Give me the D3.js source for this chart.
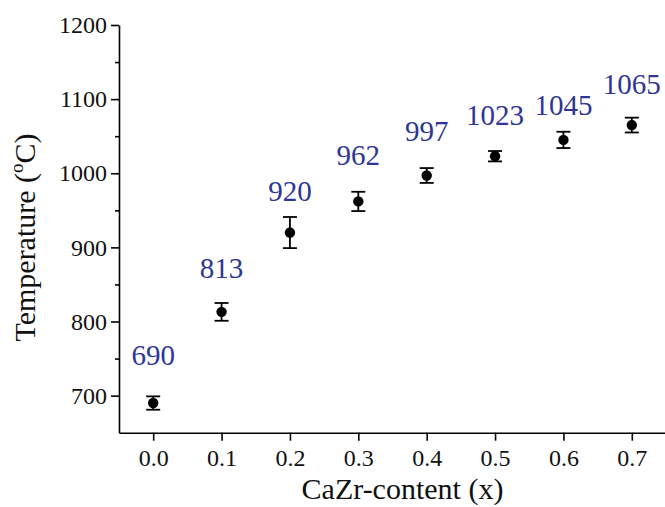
<!DOCTYPE html>
<html>
<head>
<meta charset="utf-8">
<script src="https://cdn.jsdelivr.net/npm/d3@7"></script>
<style>
  html, body { margin: 0; padding: 0; background: #fff; }
  svg { display: block; }
</style>
</head>
<body>
<div id="chart"></div>
<script>
// ---- data ----
const xValues = [0.0, 0.1, 0.2, 0.3, 0.4, 0.5, 0.6, 0.7];
const temperatures = [690, 813, 920, 962, 997, 1023, 1045, 1065];
const errors = [9, 12, 21, 13, 10, 7, 11, 10];
const pointLabels = ["690", "813", "920", "962", "997", "1023", "1045", "1065"];
// label baselines, in temperature units (manually placed annotations)
const labelY = [742, 859, 962, 1011, 1043, 1065, 1078, 1107];
const yTicksMajor = [700, 800, 900, 1000, 1100, 1200];
const yTicksMinor = [750, 850, 950, 1050, 1150];
const xTicks = [0.0, 0.1, 0.2, 0.3, 0.4, 0.5, 0.6, 0.7];
const xTitle = "CaZr-content (x)";

// ---- layout ----
const W = 665, H = 507;
const svg = d3.select("#chart").append("svg").attr("width", W).attr("height", H);
const font = "'Liberation Serif', 'Times New Roman', serif";

const x = d3.scaleLinear().domain([-0.05, 0.75]).range([119, 666]);
const y = d3.scaleLinear().domain([650, 1200]).range([432.7, 25]);

// x axis
svg.append("g").attr("transform", `translate(0,${y(650)})`)
  .call(d3.axisBottom(x).tickValues(xTicks).tickFormat(d3.format(".1f"))
    .tickSize(8).tickSizeOuter(0).tickPadding(8));
// y axis major
svg.append("g").attr("transform", `translate(${x(-0.05)},0)`)
  .call(d3.axisLeft(y).tickValues(yTicksMajor).tickFormat(d3.format("d"))
    .tickSize(8).tickSizeOuter(0).tickPadding(4));
// y axis minor
svg.append("g").attr("transform", `translate(${x(-0.05)},0)`)
  .call(d3.axisLeft(y).tickValues(yTicksMinor).tickFormat("")
    .tickSize(4).tickSizeOuter(0))
  .select(".domain").remove();

svg.selectAll(".domain, .tick line").attr("stroke", "#000").attr("stroke-width", 1.6);
svg.selectAll(".tick text").attr("font-family", font).attr("font-size", 24).attr("fill", "#111");

// error bars
const cap = 7;
const eb = svg.append("g").attr("stroke", "#000").attr("stroke-width", 1.8).attr("fill", "none");
xValues.forEach((xv, i) => {
  const cx = x(xv), lo = y(temperatures[i] - errors[i]), hi = y(temperatures[i] + errors[i]);
  eb.append("line").attr("x1", cx).attr("x2", cx).attr("y1", lo).attr("y2", hi);
  eb.append("line").attr("x1", cx - cap).attr("x2", cx + cap).attr("y1", lo).attr("y2", lo);
  eb.append("line").attr("x1", cx - cap).attr("x2", cx + cap).attr("y1", hi).attr("y2", hi);
});

// points
svg.append("g").selectAll("circle").data(xValues).join("circle")
  .attr("cx", d => x(d))
  .attr("cy", (d, i) => y(temperatures[i]))
  .attr("r", 5.2)
  .attr("fill", "#000");

// value labels
svg.append("g").selectAll("text").data(xValues).join("text")
  .attr("x", d => x(d))
  .attr("y", (d, i) => y(labelY[i]))
  .attr("text-anchor", "middle")
  .attr("font-family", font)
  .attr("font-size", 29)
  .attr("fill", "#2f3597")
  .text((d, i) => pointLabels[i]);

// axis titles
svg.append("text")
  .attr("x", 402.5).attr("y", 498.5)
  .attr("text-anchor", "middle")
  .attr("font-family", font).attr("font-size", 30).attr("fill", "#111")
  .text(xTitle);

const yt = svg.append("text")
  .attr("transform", "translate(35,237.5) rotate(-90)")
  .attr("text-anchor", "middle")
  .attr("font-family", font).attr("font-size", 30).attr("fill", "#111");
yt.append("tspan").text("Temperature (");
yt.append("tspan").attr("font-size", 19).attr("dy", -12).text("o");
yt.append("tspan").attr("dy", 12).text("C)");
</script>
</body>
</html>
